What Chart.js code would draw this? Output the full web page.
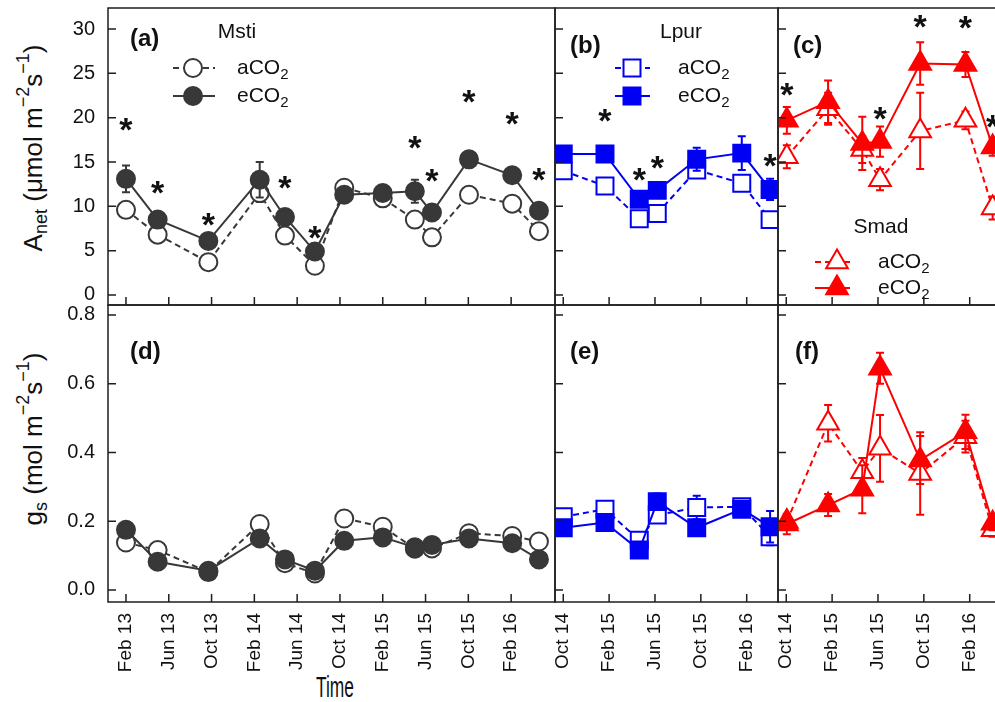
<!DOCTYPE html>
<html>
<head>
<meta charset="utf-8">
<title>Anet and gs under aCO2 / eCO2</title>
<script src="https://cdn.jsdelivr.net/npm/chart.js@4.4.1/dist/chart.umd.min.js"></script>
<style>
    html, body { margin: 0; padding: 0; background: #fff; overflow: hidden; }
    #fig { position: relative; width: 995px; height: 702px; overflow: hidden; background: #fff; }
    #fig canvas { position: absolute; }
    .ytitle {
        position: absolute; white-space: nowrap; line-height: 1;
        font-family: "Liberation Sans", Arial, sans-serif; font-size: 26px; color: #111;
        transform: translate(-50%, -50%) rotate(-90deg);
    }
    .ytitle sub, .ytitle sup { font-size: 18px; line-height: 0; }
    .ytitle sub { vertical-align: -0.3em; }
    .ytitle sup { vertical-align: 0.75em; }
    #xtitle {
        position: absolute; left: 335px; top: 687px; line-height: 1;
        font-family: "Liberation Sans", Arial, sans-serif; font-size: 29px; color: #111;
        transform: translate(-50%, -50%) scaleX(0.6);
    }
</style>
</head>
<body>
<div id="fig">
    <div class="ytitle" style="left:33px; top:148px;">A<sub>net</sub> (μmol m<sup>−2</sup>s<sup>−1</sup>)</div>
    <div class="ytitle" style="left:33px; top:439px;">g<sub>s</sub> (mol m<sup>−2</sup>s<sup>−1</sup>)</div>
    <div id="xtitle">Time</div>
</div>
<script>
// time is counted in months from Jan 2013 (Feb 13 = 1)
const mstiTickMonths = [1, 5, 9, 13, 17, 21, 25, 29, 33, 37];
const mstiTickLabels = ['Feb 13', 'Jun 13', 'Oct 13', 'Feb 14', 'Jun 14', 'Oct 14', 'Feb 15', 'Jun 15', 'Oct 15', 'Feb 16'];
const shortTickMonths = [21, 25, 29, 33, 37];
const shortTickLabels = ['Oct 14', 'Feb 15', 'Jun 15', 'Oct 15', 'Feb 16'];
const anetTicks = [0, 5, 10, 15, 20, 25, 30];
const anetTickLabels = ['0', '5', '10', '15', '20', '25', '30'];
const gsTicks = [0, 0.2, 0.4, 0.6, 0.8];
const gsTickLabels = ['0.0', '0.2', '0.4', '0.6', '0.8'];

// Msti
const mstiMonths = [1, 3.96, 8.7, 13.5, 15.86, 18.66, 21.4, 25, 28, 29.6, 33.06, 37.1, 39.6];
const mstiAnetAmb = [9.6, 6.8, 3.7, 11.5, 6.7, 3.3, 12.1, 10.9, 8.5, 6.5, 11.3, 10.3, 7.2];
const mstiAnetAmbErr = [0.5, 0.4, 0.4, 1.0, 0.4, 0.3, 0.5, 0.5, 0.5, 0.4, 0.5, 0.4, 0.4];
const mstiAnetElev = [13.1, 8.5, 6.1, 13.0, 8.8, 4.9, 11.3, 11.5, 11.7, 9.3, 15.3, 13.5, 9.5];
const mstiAnetElevErr = [1.5, 0.5, 0.8, 2.0, 0.5, 0.5, 0.4, 0.6, 1.3, 0.4, 0.6, 0.5, 0.5];
const mstiStarMonths = [1, 3.96, 8.7, 15.86, 18.66, 28, 29.6, 33.06, 37.1, 39.6];
const mstiStarValues = [19.5, 12.4, 8.8, 13.0, 7.3, 17.5, 13.8, 22.7, 20.2, 13.9];
const mstiGsAmb = [0.138, 0.116, 0.052, 0.192, 0.078, 0.048, 0.208, 0.184, 0.120, 0.121, 0.165, 0.157, 0.141];
const mstiGsAmbErr = [0.01, 0.01, 0.005, 0.01, 0.01, 0.005, 0.01, 0.01, 0.01, 0.01, 0.01, 0.01, 0.01];
const mstiGsElev = [0.175, 0.082, 0.056, 0.150, 0.089, 0.056, 0.143, 0.153, 0.124, 0.131, 0.150, 0.136, 0.089];
const mstiGsElevErr = [0.015, 0.01, 0.005, 0.02, 0.01, 0.005, 0.01, 0.01, 0.01, 0.01, 0.01, 0.01, 0.01];

// Lpur
const lpurMonths = [21, 24.64, 27.63, 29.2, 32.64, 36.57, 39.04];
const lpurAnetAmb = [14.0, 12.3, 8.6, 9.2, 14.1, 12.6, 8.5];
const lpurAnetAmbErr = [0.5, 0.6, 0.4, 0.4, 0.4, 0.4, 0.7];
const lpurAnetElev = [15.9, 15.9, 10.8, 11.8, 15.3, 16.0, 11.9];
const lpurAnetElevErr = [0.9, 0.4, 0.4, 0.5, 1.3, 1.9, 1.2];
const lpurStarMonths = [24.64, 27.63, 29.2, 39.04];
const lpurStarValues = [20.5, 13.9, 15.2, 15.4];
const lpurGsAmb = [0.213, 0.235, 0.145, 0.218, 0.240, 0.242, 0.155];
const lpurGsAmbErr = [0.01, 0.01, 0.01, 0.02, 0.034, 0.01, 0.025];
const lpurGsElev = [0.181, 0.196, 0.116, 0.257, 0.181, 0.235, 0.184];
const lpurGsElevErr = [0.01, 0.01, 0.01, 0.024, 0.01, 0.015, 0.046];

// Smad
const smadMonths = [21.05, 24.65, 27.63, 29.18, 32.68, 36.63, 39.0];
const smadAnetAmb = [15.6, 21.0, 16.4, 13.0, 18.5, 19.7, 9.8];
const smadAnetAmbErr = [1.3, 1.8, 1.5, 1.2, 4.3, 1.0, 1.3];
const smadAnetElev = [19.7, 21.8, 17.1, 17.3, 26.1, 26.0, 16.7];
const smadAnetElevErr = [1.5, 2.4, 3.0, 1.7, 2.4, 1.4, 1.0];
const smadStarMonths = [21.05, 29.18, 32.68, 36.63, 39.0];
const smadStarValues = [23.5, 20.7, 31.1, 31.0, 19.9];
const smadGsAmb = [0.199, 0.485, 0.344, 0.412, 0.339, 0.446, 0.175];
const smadGsAmbErr = [0.02, 0.053, 0.04, 0.097, 0.12, 0.046, 0.02];
const smadGsElev = [0.192, 0.247, 0.293, 0.645, 0.378, 0.460, 0.194];
const smadGsElevErr = [0.03, 0.032, 0.07, 0.045, 0.07, 0.05, 0.02];

const FONT = '"Liberation Sans", Arial, Helvetica, sans-serif';
const GREY = '#383838';
const BLUE = '#0000f5';
const RED = '#ff0000';
Chart.defaults.font.family = FONT;
Chart.defaults.color = '#111';

const fig = document.getElementById('fig');

function drawMarker(ctx, style, x, y, r, fill, stroke) {
    ctx.beginPath();
    if (style === 'circle') {
        ctx.arc(x, y, r, 0, Math.PI * 2);
    } else if (style === 'rect') {
        const s = r * Math.SQRT1_2;
        ctx.rect(x - s, y - s, 2 * s, 2 * s);
    } else {
        for (let k = 0; k < 3; k++) {
            const a = k * 2 * Math.PI / 3;
            const px = x + Math.sin(a) * r, py = y - Math.cos(a) * r;
            if (k === 0) ctx.moveTo(px, py); else ctx.lineTo(px, py);
        }
        ctx.closePath();
    }
    ctx.fillStyle = fill;
    ctx.fill();
    ctx.setLineDash([]);
    ctx.lineWidth = 2;
    ctx.strokeStyle = stroke;
    ctx.stroke();
}

// frame, inward ticks, error bars, asterisks, panel letters and legends
const panelDecor = {
    id: 'panelDecor',
    beforeDatasetDraw(chart, args) {
        const ds = chart.data.datasets[args.index];
        if (!ds.errors) return;
        const ctx = chart.ctx, a = chart.chartArea, y = chart.scales.y;
        ctx.save();
        ctx.beginPath();
        ctx.rect(a.left, a.top, a.right - a.left, a.bottom - a.top);
        ctx.clip();
        ctx.strokeStyle = ds.borderColor;
        ctx.lineWidth = 2;
        ctx.beginPath();
        args.meta.data.forEach(function(pt, i) {
            const e = ds.errors[i];
            if (!e) return;
            const v = ds.data[i].y;
            const top = y.getPixelForValue(v + e), bot = y.getPixelForValue(v - e);
            ctx.moveTo(pt.x, top); ctx.lineTo(pt.x, bot);
            ctx.moveTo(pt.x - 4, top); ctx.lineTo(pt.x + 4, top);
            ctx.moveTo(pt.x - 4, bot); ctx.lineTo(pt.x + 4, bot);
        });
        ctx.stroke();
        ctx.restore();
    },
    afterDraw(chart, args, o) {
        const ctx = chart.ctx, a = chart.chartArea, sx = chart.scales.x, sy = chart.scales.y;
        ctx.save();
        ctx.strokeStyle = '#1e1e1e';
        ctx.lineWidth = 1.5;
        ctx.strokeRect(a.left, a.top, a.right - a.left, a.bottom - a.top);
        ctx.beginPath();
        o.xTicks.forEach(function(v) {
            const px = sx.getPixelForValue(v);
            ctx.moveTo(px, a.bottom); ctx.lineTo(px, a.bottom - 8);
        });
        o.yTicks.forEach(function(v) {
            const py = sy.getPixelForValue(v);
            ctx.moveTo(a.left, py); ctx.lineTo(a.left + 8, py);
        });
        ctx.stroke();

        ctx.fillStyle = '#111';
        ctx.font = 'bold 24px ' + FONT;
        ctx.textAlign = 'left';
        ctx.textBaseline = 'middle';
        ctx.fillText(o.label, a.left + o.labelPos[0], a.top + o.labelPos[1]);

        if (o.stars) {
            ctx.font = 'bold 34px ' + FONT;
            ctx.textAlign = 'center';
            ctx.textBaseline = 'alphabetic';
            o.stars.months.forEach(function(m, i) {
                ctx.fillText('*', sx.getPixelForValue(m), sy.getPixelForValue(o.stars.values[i]) + 19);
            });
        }

        const lg = o.legend;
        if (lg) {
            ctx.font = '21px ' + FONT;
            ctx.textAlign = 'center';
            ctx.textBaseline = 'middle';
            ctx.fillText(lg.title, a.left + lg.tx, a.top + lg.ty);
            lg.entries.forEach(function(name, k) {
                const ds = chart.data.datasets[k];
                const yy = a.top + lg.rows[k];
                ctx.beginPath();
                ctx.setLineDash(ds.borderDash);
                ctx.lineWidth = 2;
                ctx.strokeStyle = ds.borderColor;
                ctx.moveTo(a.left + lg.lx0, yy);
                ctx.lineTo(a.left + lg.lx1, yy);
                ctx.stroke();
                drawMarker(ctx, ds.pointStyle, a.left + lg.mx, yy, ds.pointRadius, ds.pointBackgroundColor, ds.pointBorderColor);
                ctx.fillStyle = '#111';
                ctx.font = '21px ' + FONT;
                ctx.textAlign = 'left';
                ctx.fillText(name, a.left + lg.textX, yy);
                const w = ctx.measureText(name).width;
                ctx.font = '15px ' + FONT;
                ctx.fillText('2', a.left + lg.textX + w, yy + 7);
            });
        }
        ctx.restore();
    }
};

function series(months, values, errs, color, style, r, open) {
    return {
        data: months.map(function(m, i) { return { x: m, y: values[i] }; }),
        errors: errs,
        borderColor: color,
        borderWidth: 2,
        borderDash: open ? [6, 4] : [],
        pointStyle: style,
        pointRadius: r,
        pointBorderWidth: 2,
        pointBackgroundColor: open ? '#ffffff' : color,
        pointBorderColor: color,
        fill: false,
        tension: 0,
        order: open ? 2 : 1
    };
}

function makePanel(p) {
    const r = p.rect, M = 30;
    const cl = p.yLabels ? 0 : r.x0 - M;
    const ct = r.y0 - M;
    const cw = r.x1 + M - cl;
    const xh = 100;
    const ch = r.y1 + (p.xLabels ? xh : M) - ct;
    const canvas = document.createElement('canvas');
    canvas.width = cw; canvas.height = ch;
    canvas.style.left = cl + 'px'; canvas.style.top = ct + 'px';
    canvas.style.width = cw + 'px'; canvas.style.height = ch + 'px';
    fig.appendChild(canvas);

    new Chart(canvas, {
        type: 'line',
        data: { datasets: p.datasets },
        options: {
            responsive: false,
            animation: false,
            events: [],
            layout: { padding: { left: p.yLabels ? 0 : M, top: M, right: M, bottom: p.xLabels ? 0 : M } },
            plugins: {
                legend: { display: false },
                tooltip: { enabled: false },
                panelDecor: {
                    xTicks: p.xTicks, yTicks: p.yTicks, label: p.label, labelPos: p.labelPos,
                    stars: p.stars, legend: p.legend
                }
            },
            scales: {
                x: {
                    type: 'linear', min: p.xRange[0], max: p.xRange[1],
                    display: !!p.xLabels,
                    afterBuildTicks: function(s) { s.ticks = p.xTicks.map(function(v) { return { value: v }; }); },
                    afterFit: function(s) { if (p.xLabels) s.height = xh; },
                    grid: { display: false, drawTicks: false },
                    border: { display: false },
                    ticks: {
                        autoSkip: false, minRotation: 90, maxRotation: 90, padding: 11,
                        color: '#111', font: { size: 19 },
                        callback: function(v, i) { return p.xTickLabels[i]; }
                    }
                },
                y: {
                    type: 'linear', min: p.yRange[0], max: p.yRange[1],
                    display: !!p.yLabels,
                    afterBuildTicks: function(s) { s.ticks = p.yTicks.map(function(v) { return { value: v }; }); },
                    afterFit: function(s) { if (p.yLabels) s.width = r.x0 - cl; },
                    grid: { display: false, drawTicks: false },
                    border: { display: false },
                    ticks: {
                        padding: 13, color: '#111', font: { size: 20 },
                        callback: function(v, i) { return p.yTickLabels[i]; }
                    }
                }
            }
        },
        plugins: [panelDecor]
    });
}

const anetRange = [-1.13, 32.37];
const gsRange = [-0.035, 0.829];
const longRange = [-0.68, 41.1];
const shortRange = [20.28, 39.73];

makePanel({
    rect: { x0: 108, y0: 8, x1: 555, y1: 305 }, xRange: longRange, yRange: anetRange,
    xTicks: mstiTickMonths, xTickLabels: mstiTickLabels, yTicks: anetTicks, yTickLabels: anetTickLabels,
    yLabels: true, label: '(a)', labelPos: [22, 31],
    datasets: [
        series(mstiMonths, mstiAnetAmb, mstiAnetAmbErr, GREY, 'circle', 9, true),
        series(mstiMonths, mstiAnetElev, mstiAnetElevErr, GREY, 'circle', 9, false)
    ],
    stars: { months: mstiStarMonths, values: mstiStarValues },
    legend: { title: 'Msti', tx: 129, ty: 24, rows: [60, 88], lx0: 65, lx1: 107, mx: 85, textX: 129, entries: ['aCO', 'eCO'] }
});
makePanel({
    rect: { x0: 555, y0: 8, x1: 778, y1: 305 }, xRange: shortRange, yRange: anetRange,
    xTicks: shortTickMonths, xTickLabels: shortTickLabels, yTicks: anetTicks, yTickLabels: anetTickLabels,
    label: '(b)', labelPos: [15, 38],
    datasets: [
        series(lpurMonths, lpurAnetAmb, lpurAnetAmbErr, BLUE, 'rect', 12, true),
        series(lpurMonths, lpurAnetElev, lpurAnetElevErr, BLUE, 'rect', 12, false)
    ],
    stars: { months: lpurStarMonths, values: lpurStarValues },
    legend: { title: 'Lpur', tx: 126, ty: 24, rows: [60, 88], lx0: 60, lx1: 95, mx: 77, textX: 123, entries: ['aCO', 'eCO'] }
});
makePanel({
    rect: { x0: 778, y0: 8, x1: 1001, y1: 305 }, xRange: shortRange, yRange: anetRange,
    xTicks: shortTickMonths, xTickLabels: shortTickLabels, yTicks: anetTicks, yTickLabels: anetTickLabels,
    label: '(c)', labelPos: [15, 38],
    datasets: [
        series(smadMonths, smadAnetAmb, smadAnetAmbErr, RED, 'triangle', 12.5, true),
        series(smadMonths, smadAnetElev, smadAnetElevErr, RED, 'triangle', 12.5, false)
    ],
    stars: { months: smadStarMonths, values: smadStarValues },
    legend: { title: 'Smad', tx: 103, ty: 219, rows: [254, 280], lx0: 37, lx1: 72, mx: 59, textX: 100, entries: ['aCO', 'eCO'] }
});
makePanel({
    rect: { x0: 108, y0: 305, x1: 555, y1: 602 }, xRange: longRange, yRange: gsRange,
    xTicks: mstiTickMonths, xTickLabels: mstiTickLabels, yTicks: gsTicks, yTickLabels: gsTickLabels,
    xLabels: true, yLabels: true, label: '(d)', labelPos: [22, 47],
    datasets: [
        series(mstiMonths, mstiGsAmb, mstiGsAmbErr, GREY, 'circle', 9, true),
        series(mstiMonths, mstiGsElev, mstiGsElevErr, GREY, 'circle', 9, false)
    ]
});
makePanel({
    rect: { x0: 555, y0: 305, x1: 778, y1: 602 }, xRange: shortRange, yRange: gsRange,
    xTicks: shortTickMonths, xTickLabels: shortTickLabels, yTicks: gsTicks, yTickLabels: gsTickLabels,
    xLabels: true, label: '(e)', labelPos: [15, 47],
    datasets: [
        series(lpurMonths, lpurGsAmb, lpurGsAmbErr, BLUE, 'rect', 12, true),
        series(lpurMonths, lpurGsElev, lpurGsElevErr, BLUE, 'rect', 12, false)
    ]
});
makePanel({
    rect: { x0: 778, y0: 305, x1: 1001, y1: 602 }, xRange: shortRange, yRange: gsRange,
    xTicks: shortTickMonths, xTickLabels: shortTickLabels, yTicks: gsTicks, yTickLabels: gsTickLabels,
    xLabels: true, label: '(f)', labelPos: [17, 47],
    datasets: [
        series(smadMonths, smadGsAmb, smadGsAmbErr, RED, 'triangle', 12.5, true),
        series(smadMonths, smadGsElev, smadGsElevErr, RED, 'triangle', 12.5, false)
    ]
});
</script>
</body>
</html>
